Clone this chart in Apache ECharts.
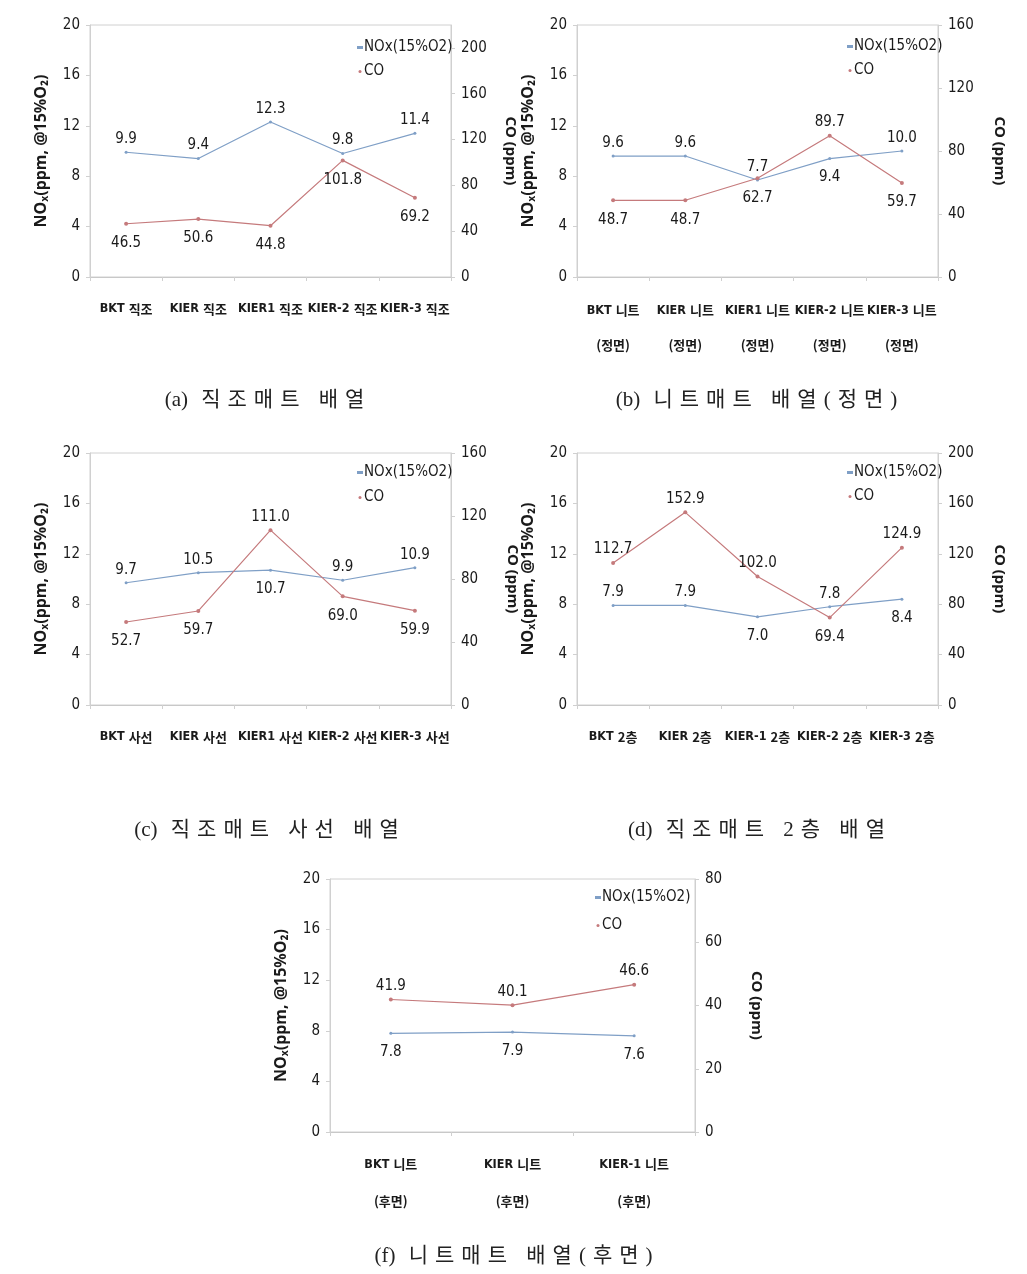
<!DOCTYPE html>
<html><head><meta charset="utf-8">
<script src="https://cdn.jsdelivr.net/npm/echarts@6/dist/echarts.min.js"></script>
<style>
html,body{margin:0;padding:0;background:#fff}
#c{width:1027px;height:1274px;position:relative}
.cap{position:absolute;font-family:"Liberation Serif","DejaVu Serif","Noto Sans CJK KR",serif;font-size:21px;color:#222;white-space:nowrap;transform:translate(-50%,-50%)}
.cap .p{margin-right:8px}
.cap .k{letter-spacing:7px}
</style></head><body>
<div id="wrap" style="position:relative;width:1027px;height:1274px">
<div id="c"></div>
</div>
<script>
// ---- data ----
const catsA = ['BKT 직조','KIER 직조','KIER1 직조','KIER-2 직조','KIER-3 직조'];
const noxA = [9.9, 9.4, 12.3, 9.8, 11.4];
const coA = [46.5, 50.6, 44.8, 101.8, 69.2];
const coTicksA = [0, 40, 80, 120, 160, 200];
const coMaxA = 220;

const catsB = ['BKT 니트\n(정면)','KIER 니트\n(정면)','KIER1 니트\n(정면)','KIER-2 니트\n(정면)','KIER-3 니트\n(정면)'];
const noxB = [9.6, 9.6, 7.7, 9.4, 10.0];
const coB = [48.7, 48.7, 62.7, 89.7, 59.7];
const coTicksB = [0, 40, 80, 120, 160];

const catsC = ['BKT 사선','KIER 사선','KIER1 사선','KIER-2 사선','KIER-3 사선'];
const noxC = [9.7, 10.5, 10.7, 9.9, 10.9];
const coC = [52.7, 59.7, 111.0, 69.0, 59.9];
const coTicksC = [0, 40, 80, 120, 160];

const catsD = ['BKT 2층','KIER 2층','KIER-1 2층','KIER-2 2층','KIER-3 2층'];
const noxD = [7.9, 7.9, 7.0, 7.8, 8.4];
const coD = [112.7, 152.9, 102.0, 69.4, 124.9];
const coTicksD = [0, 40, 80, 120, 160, 200];

const catsF = ['BKT 니트\n(후면)','KIER 니트\n(후면)','KIER-1 니트\n(후면)'];
const noxF = [7.8, 7.9, 7.6];
const coF = [41.9, 40.1, 46.6];
const coTicksF = [0, 20, 40, 60, 80];

const noxTicks = [0, 4, 8, 12, 16, 20];
const seriesNames = ['NOx(15%O2)', 'CO'];
const captionPrefix = ['(a)','(b)','(c)','(d)','(f)'];
const captionText = ['직조매트 배열','니트매트 배열(정면)','직조매트 사선 배열','직조매트 2층 배열','니트매트 배열(후면)'];

// ---- label placement (style) ----
const T='top', B='bottom';
const posNox = [[T,T,T,T,T],[T,T,T,B,T],[T,T,B,T,T],[T,T,B,T,B],[B,B,B]];
const posCo  = [[B,B,B,B,B],[B,B,B,T,B],[B,B,T,B,B],[T,T,T,B,T],[T,T,T]];
const labDist = {top:4, bottom:10};

// ---- layout (style) ----
const layouts = [
  {left:90, top:25, width:361, height:252, legL:352, legT:35, legGap:9, catMargin:23, catLH:18, capX:268, capY:397},
  {left:577, top:25, width:361, height:252, legL:842, legT:34, legGap:9, catMargin:16, catLH:35, capX:760, capY:397},
  {left:90, top:453, width:361, height:252, legL:352, legT:460, legGap:10, catMargin:23, catLH:18, capX:270, capY:827},
  {left:577, top:453, width:361, height:252, legL:842, legT:460, legGap:9, catMargin:23, catLH:18, capX:760, capY:827},
  {left:330, top:879, width:365, height:253, legL:590, legT:885, legGap:13, catMargin:14, catLH:37, capX:517, capY:1253}
];

const charts = [
  {cats:catsA, nox:noxA, co:coA, coTicks:coTicksA, coMax:coMaxA},
  {cats:catsB, nox:noxB, co:coB, coTicks:coTicksB},
  {cats:catsC, nox:noxC, co:coC, coTicks:coTicksC},
  {cats:catsD, nox:noxD, co:coD, coTicks:coTicksD},
  {cats:catsF, nox:noxF, co:coF, coTicks:coTicksF}
];

// ---- font detection ----
function hasFont(name){
  const ctx = document.createElement('canvas').getContext('2d');
  const s = 'BKT KIER-2 0123456789 NOx(15%O2)';
  ctx.font = '16px monospace'; const w1 = ctx.measureText(s).width;
  ctx.font = '16px serif'; const w2 = ctx.measureText(s).width;
  ctx.font = '16px "' + name + '", monospace'; const a = ctx.measureText(s).width;
  ctx.font = '16px "' + name + '", serif'; const b = ctx.measureText(s).width;
  return a !== w1 || b !== w2;
}
const narrowCands = ['Liberation Sans Narrow','DejaVu Sans Condensed','Roboto Condensed','Noto Sans Condensed','Open Sans Condensed','Arial Narrow'];
let narrow = narrowCands.find(hasFont);
let scale = 1;
if (!narrow) { narrow = 'Roboto'; scale = 0.86; }
const NUM_FONT = '"' + narrow + '","Noto Sans CJK KR",sans-serif';
const KR_FONT = '"Noto Sans CJK KR",sans-serif';
const fs = v => Math.round(v * scale * 2) / 2;

const NOX_COLOR = '#7f9fc6';
const CO_COLOR = '#c57a7c';
const TXT = '#1a1a1a';

function catFormatter(v){
  return v.split('\n').map(line => {
    const m = line.match(/^([A-Za-z0-9\-]+)\s(.*)$/);
    return m ? '{a|' + m[1] + '} {k|' + m[2] + '}' : '{k|' + line + '}';
  }).join('\n');
}

const option = {
  animation:false,
  backgroundColor:'#fff',
  grid:[], xAxis:[], yAxis:[], series:[], legend:[]
};

charts.forEach((c, i) => {
  const L = layouts[i];
  option.grid.push({left:L.left, top:L.top, width:L.width, height:L.height, show:true, borderColor:'#d0d0d0', borderWidth:1, containLabel:false});
  option.xAxis.push({
    type:'category', gridIndex:i, data:c.cats, boundaryGap:true,
    axisLine:{show:true, lineStyle:{color:'#c8c8c8'}},
    axisTick:{show:true, length:4, lineStyle:{color:'#d0d0d0'}},
    axisLabel:{color:TXT, fontFamily:NUM_FONT, fontWeight:'bold', fontSize:fs(13), margin:L.catMargin, lineHeight:L.catLH, interval:0,
      formatter:catFormatter,
      rich:{
        a:{fontFamily:NUM_FONT, fontWeight:'bold', fontSize:fs(12.5), color:TXT, lineHeight:L.catLH},
        k:{fontFamily:KR_FONT, fontWeight:'bold', fontSize:13, color:TXT, lineHeight:L.catLH}
      }}
  });
  option.yAxis.push({
    type:'value', gridIndex:i, min:noxTicks[0], max:noxTicks[noxTicks.length-1], interval:noxTicks[1]-noxTicks[0],
    name:'NOₓ(ppm, @15%O₂)', nameLocation:'middle', nameGap:41, nameRotate:90,
    nameTextStyle:{color:TXT, fontFamily:'"Noto Sans","DejaVu Sans",sans-serif', fontWeight:'bold', fontSize:16},
    axisLine:{show:true, lineStyle:{color:'#d0d0d0'}},
    axisTick:{show:true, length:4, lineStyle:{color:'#d0d0d0'}},
    splitLine:{show:false},
    axisLabel:{color:TXT, fontFamily:NUM_FONT, fontSize:fs(15), margin:10}
  });
  const coMax = c.coMax !== undefined ? c.coMax : c.coTicks[c.coTicks.length-1];
  option.yAxis.push({
    type:'value', gridIndex:i, position:'right', min:c.coTicks[0], max:coMax, interval:c.coTicks[1]-c.coTicks[0],
    name:'CO (ppm)', nameLocation:'middle', nameGap:i===0?52:54, nameRotate:-90,
    nameTextStyle:{color:TXT, fontFamily:'"Noto Sans","DejaVu Sans",sans-serif', fontWeight:'bold', fontSize:15},
    axisLine:{show:true, lineStyle:{color:'#d0d0d0'}},
    axisTick:{show:true, length:4, lineStyle:{color:'#d0d0d0'}},
    splitLine:{show:false},
    axisLabel:{color:TXT, fontFamily:NUM_FONT, fontSize:fs(15), margin:10, showMaxLabel: c.coMax === undefined}
  });
  const lab = {show:true, color:TXT, fontFamily:NUM_FONT, fontSize:fs(15), formatter:p => Number(p.value).toFixed(1)};
  option.series.push({
    type:'line', name:seriesNames[0], xAxisIndex:i, yAxisIndex:2*i,
    data:c.nox.map((v,k)=>({value:v, label:{position:posNox[i][k], distance:labDist[posNox[i][k]]}})),
    symbol:'circle', symbolSize:3, lineStyle:{color:NOX_COLOR, width:1.2}, itemStyle:{color:NOX_COLOR},
    label:lab
  });
  option.series.push({
    type:'line', name:seriesNames[1], xAxisIndex:i, yAxisIndex:2*i+1,
    data:c.co.map((v,k)=>({value:v, label:{position:posCo[i][k], distance:labDist[posCo[i][k]]}})),
    symbol:'circle', symbolSize:4, lineStyle:{color:CO_COLOR, width:1.2}, itemStyle:{color:CO_COLOR},
    label:lab
  });
  option.legend.push({
    left:L.legL, top:L.legT, orient:'vertical', itemGap:L.legGap, itemWidth:6, itemHeight:3,
    data:[{name:seriesNames[0], icon:'rect', itemStyle:{color:NOX_COLOR}}, {name:seriesNames[1], icon:'circle', itemStyle:{color:CO_COLOR}}],
    textStyle:{color:TXT, fontFamily:NUM_FONT, fontSize:fs(15), padding:[0,0,0,-4]},
    selectedMode:false
  });
});

const chart = echarts.init(document.getElementById('c'));
chart.setOption(option);

const wrap = document.getElementById('wrap');
captionText.forEach((t,i) => {
  const d = document.createElement('div');
  d.className = 'cap';
  const p = document.createElement('span'); p.className = 'p'; p.textContent = captionPrefix[i] + ' ';
  const k = document.createElement('span'); k.className = 'k'; k.textContent = t;
  d.appendChild(p); d.appendChild(k);
  d.style.left = layouts[i].capX + 'px';
  d.style.top = layouts[i].capY + 'px';
  wrap.appendChild(d);
});
</script>
</body></html>
